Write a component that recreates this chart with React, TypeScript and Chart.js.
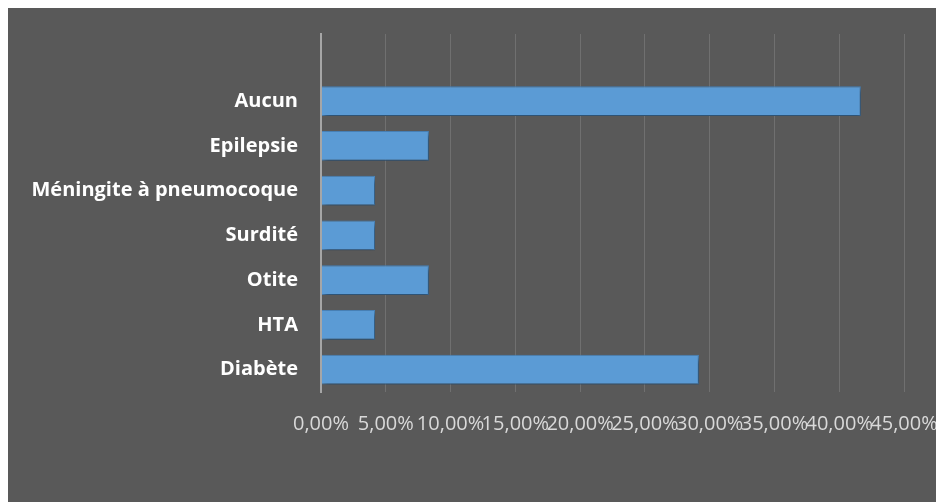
import React, { useEffect, useRef } from "react";
import { Chart, registerables } from "chart.js";

Chart.register(...registerables);

const categories = ["", "Aucun", "Epilepsie", "Méningite à pneumocoque", "Surdité", "Otite", "HTA", "Diabète"];
const values: (number | null)[] = [null, 41.67, 8.33, 4.17, 4.17, 8.33, 4.17, 29.17];
const xMin = 0;
const xMax = 45;
const xStep = 5;

const shadowPlugin = {
  id: "barShadow",
  beforeDatasetsDraw(chart: any) {
    const ctx = chart.ctx;
    ctx.save();
    ctx.shadowColor = "rgba(0,0,0,0.45)";
    ctx.shadowBlur = 5;
    ctx.shadowOffsetX = 2;
    ctx.shadowOffsetY = 3;
  },
  afterDatasetsDraw(chart: any) {
    chart.ctx.restore();
  },
};

export default function App() {
  const ref = useRef<HTMLCanvasElement | null>(null);
  useEffect(() => {
    if (!ref.current) return;
    const chart = new Chart(ref.current, {
      type: "bar",
      data: {
        labels: categories,
        datasets: [
          {
            data: values,
            backgroundColor: "#5B9BD5",
            borderColor: "#4A85BC",
            borderWidth: 1,
            barPercentage: 0.66,
            categoryPercentage: 1,
          },
        ],
      },
      plugins: [shadowPlugin],
      options: {
        indexAxis: "y",
        animation: false,
        responsive: false,
        maintainAspectRatio: false,
        layout: { padding: { top: 27, right: 40, bottom: 0, left: 0 } },
        plugins: { legend: { display: false }, tooltip: { enabled: false } },
        scales: {
          x: {
            min: xMin,
            max: xMax,
            afterFit: (s: any) => {
              s.height = 110;
              s.paddingLeft = 0;
              s.paddingRight = 0;
            },
            ticks: {
              stepSize: xStep,
              autoSkip: false,
              maxRotation: 0,
              minRotation: 0,
              padding: 20,
              color: "#D9D9D9",
              font: { family: "Open Sans", size: 20 },
              callback: (v: any) => Number(v).toFixed(2).replace(".", ",") + "%",
            },
            grid: {
              drawTicks: false,
              color: (c: any) => (c.index === 0 ? "#A6A6A6" : "#707070"),
              lineWidth: (c: any) => (c.index === 0 ? 2 : 1),
            },
            border: { display: false },
          },
          y: {
            afterFit: (s: any) => {
              s.width = 313;
              s.paddingTop = 0;
              s.paddingBottom = 0;
            },
            ticks: {
              autoSkip: false,
              padding: 23,
              color: "#FFFFFF",
              font: { family: "Open Sans", size: 20, weight: "bold" },
            },
            grid: { display: false, drawTicks: false },
            border: { display: true, color: "#A6A6A6", width: 2 },
          },
        },
      },
    });
    return () => chart.destroy();
  }, []);
  return (
    <div style={{ marginTop: -1, width: 936, height: 495, background: "#595959" }}>
      <canvas ref={ref} width={936} height={495} style={{ display: "block" }} />
    </div>
  );
}
